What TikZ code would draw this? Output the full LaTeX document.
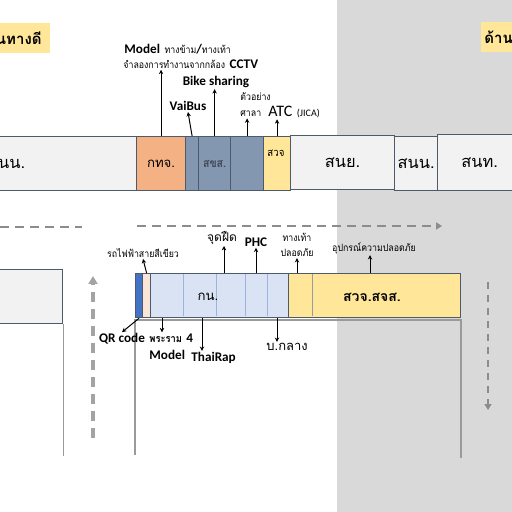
\documentclass[tikz,border=0pt]{standalone}
\usepackage{fontspec}
\setmainfont{Carlito}
\newfontfamily\thai[Script=Thai]{Loma}
\newfontfamily\thainarrow[Script=Thai, FakeStretch=0.88]{Loma}
\usetikzlibrary{arrows.meta}
\usetikzlibrary{calc}

\definecolor{bggray}{HTML}{D9D9D9}
\definecolor{segline}{HTML}{4D5A6B}
\definecolor{lightseg}{HTML}{F2F2F2}
\definecolor{orangeseg}{HTML}{F4B183}
\definecolor{slateseg}{HTML}{8497B0}
\definecolor{yellowseg}{HTML}{FFE699}
\definecolor{darkblue}{HTML}{4472C4}
\definecolor{peach}{HTML}{FBE5D6}
\definecolor{paleblue}{HTML}{DAE3F3}
\definecolor{divblue}{HTML}{9DB3DC}
\definecolor{dashgray}{HTML}{8C8C8C}
\definecolor{framegray}{HTML}{9A9A9A}

\newcommand{\thaismall}[1]{{\thainarrow\fontsize{5}{6}\selectfont #1}}
\newcommand{\latbold}[1]{{\fontsize{6.6}{8}\selectfont\bfseries #1}}

\tikzset{
  seg/.style={draw=segline, line width=0.6pt, anchor=north west, inner sep=0pt},
  barbig/.style={font=\thai\fontsize{8.2}{10}\selectfont},
  barmid/.style={font=\thai\fontsize{6.6}{8}\selectfont},
  tag/.style={fill=yellowseg, minimum height=15pt, inner xsep=4pt,
    font=\thai\bfseries\fontsize{7.5}{9}\selectfont},
  pin/.style={-{Stealth[length=2.2pt,width=2.2pt]}, line width=0.5pt},
  flow/.style={dashgray, line width=1pt, dash pattern=on 4.5pt off 3pt},
  frame/.style={framegray, line width=0.6pt},
}

\begin{document}
\begin{tikzpicture}[x=0.5pt,y=-0.5pt]
\useasboundingbox (0,0) rectangle (512,512);
\clip (0,0) rectangle (512,512);

% shaded right half
\fill[bggray] (337,0) rectangle (512,512);

% --- tags ---
\node[tag, anchor=east] (goodtag) at (50,38) {เส้นทางดี};
\node[tag, anchor=west, inner xsep=1.5pt, text width=30pt, align=left] (sidetag) at (481,37) {ด้าน};

% --- top row ---
\node[seg, fill=lightseg, minimum width=132pt, minimum height=27pt, barbig] (snnA) at (-126,136) {สนน.};
\node[seg, fill=orangeseg, minimum width=24.5pt, minimum height=27pt, barmid] (gtj) at (136,136) {กทจ.};
\node[seg, fill=slateseg, minimum width=6.5pt, minimum height=27pt] (sksA) at (185,136) {};
\node[seg, fill=slateseg, minimum width=16pt, minimum height=27pt,
  font=\thainarrow\bfseries\fontsize{6}{7}\selectfont, text=segline!80!black] (sksB) at (198,136) {สขส.};
\node[seg, fill=slateseg, minimum width=16.5pt, minimum height=27pt] (sksC) at (230,136) {};
\node[seg, fill=yellowseg, minimum width=13.5pt, minimum height=27pt] (swj) at (263,136) {};
\node[font=\thainarrow\fontsize{5.5}{6}\selectfont, inner sep=0pt] (swjtxt) at (276,153) {สวจ};
\node[seg, fill=lightseg, minimum width=52pt, minimum height=27pt, barbig] (sny) at (290,135) {สนย.};
\node[seg, fill=lightseg, minimum width=21.5pt, minimum height=27pt, barbig] (snnB) at (394,136) {สนน.};
\node[seg, fill=lightseg, minimum width=42pt, minimum height=28pt, barbig] (snt) at (437,134) {สนท.};

% labels above top row
\node[anchor=west, inner sep=0.5pt] (model) at (123,49)
  {\latbold{Model} \thaismall{ทางข้าม}\latbold{/}\thaismall{ทางเท้า}};
\node[anchor=west, inner sep=0.5pt] (cctv) at (122,64)
  {\thaismall{จำลองการทำงานจากกล้อง} \latbold{CCTV}};
\node[inner sep=0.5pt] (bike) at (216,82) {\latbold{Bike sharing}};
\node[inner sep=0.5pt] (vaibus) at (188,106) {\latbold{VaiBus}};
\node[anchor=west, inner sep=0.5pt] (example) at (239,97) {\thaismall{ตัวอย่าง}};
\node[anchor=west, inner sep=0.5pt] (sala) at (239,114) {\thaismall{ศาลา}};
\node[anchor=west, inner sep=0.5pt] (atc) at (267,112)
  {{\fontsize{8}{9}\selectfont ATC} {\fontsize{5}{6}\selectfont (JICA)}};

\draw[pin] (gtj.north) -- (gtj.north |- cctv.south);
\draw[pin] (sksA.north) -- (vaibus.south);
\draw[pin] (sksB.north) -- (sksB.north |- bike.south);
\draw[pin] (sksC.north) -- (sksC.north |- sala.south);
\draw[pin] (swj.north) -- (swj.north |- atc.south);

% --- flow arrows ---
\coordinate (flowA0) at (0,227);
\coordinate (flowA1) at (82,227);
\coordinate (flowB0) at (137,226);
\coordinate (flowB1) at (442,226);
\coordinate (upA) at (93,438);
\coordinate (upB) at (93,276);
\coordinate (downA) at (488,282);
\coordinate (downB) at (488,410);
\draw[flow] (flowA0) -- (flowA1);
\draw[flow, -{Triangle[length=3pt,width=3.5pt]}] (flowB0) -- (flowB1);
\draw[flow, dashgray!80, line width=1.6pt, dash pattern=on 5pt off 3.5pt,
  -{Triangle[length=4pt,width=4.5pt]}] (upA) -- (upB);
\draw[flow, dash pattern=on 3.5pt off 3pt,
  -{Triangle[length=3pt,width=3.5pt]}] (downA) -- (downB);

% --- second row ---
\node[seg, fill=lightseg, minimum width=81pt, minimum height=27pt] (leftbox) at (-100,269) {};
\draw[frame] (leftbox.south east) -- ++(0,132);
\draw[frame] (135,455) -- (135,320) -- (461,320) -- (461,458);

\node[seg, fill=darkblue, minimum width=3.5pt, minimum height=22pt] (qr) at (135,273) {};
\node[seg, fill=peach, minimum width=4pt, minimum height=22pt] (green) at (142,273) {};
\node[seg, fill=paleblue, minimum width=69pt, minimum height=22pt] (kn) at (150,273) {};
\node[seg, fill=yellowseg, minimum width=86pt, minimum height=22pt] (sjs) at (288,273) {};
\foreach \x in {183,216,245,267}
  \draw[divblue, line width=0.5pt] (\x,274) -- (\x,316);
\draw[segline!60, line width=0.5pt] (312,274) -- (312,316);
\node[barmid] (kntxt) at (208,297) {กน.};
\node[font=\thai\bfseries\fontsize{7}{8}\selectfont] (sjstxt) at (372,297) {สวจ.สจส.};

% labels round second row
\node[inner sep=0.5pt] (bts) at (143,253) {\thaismall{รถไฟฟ้าสายสีเขียว}};
\node[inner sep=0.5pt] (qrlbl) at (122,339) {\latbold{QR code}};
\node[anchor=west, inner sep=0.5pt] (rama) at (148,338)
  {{\thainarrow\bfseries\fontsize{5.3}{6}\selectfont พระราม} \latbold{4}};
\node[anchor=west, inner sep=0.5pt] (model2) at (148,355) {\latbold{Model}};
\node[anchor=west, inner sep=0.5pt] (thairap) at (190,358) {\latbold{ThaiRap}};
\node[anchor=west, inner sep=0.5pt, font=\thai\fontsize{6.5}{7}\selectfont] (bklang) at (265,347) {บ.กลาง};
\node[inner sep=0.5pt, font=\thai\fontsize{6}{7}\selectfont] (judfeud) at (222,238) {จุดฝืด};
\node[inner sep=0.5pt] (phc) at (256,242) {\latbold{PHC}};
\node[inner sep=0.5pt, align=center, font=\thainarrow\fontsize{5}{7.5}\selectfont] (walk) at (297,245) {ทางเท้า\\ปลอดภัย};
\node[inner sep=0.5pt] (safety) at (374,248) {\thaismall{อุปกรณ์ความปลอดภัย}};

\coordinate (ramaft) at ([xshift=6pt]kn.south west);
\coordinate (thairapft) at ([xshift=26pt]kn.south west);
\coordinate (bklangft) at ([xshift=63.5pt]kn.south west);
\coordinate (judfeudft) at ([xshift=37pt]kn.north west);
\coordinate (phcft) at ([xshift=53pt]kn.north west);
\coordinate (walkft) at ([xshift=4.5pt]sjs.north west);
\coordinate (safetyft) at ([xshift=41pt]sjs.north west);

\draw[pin] (green.north) -- (bts.south);
\draw[pin] (qr.south) -- (qrlbl.north);
\draw[pin] (ramaft) -- (ramaft |- rama.north);
\draw[pin] (thairapft) -- (thairapft |- thairap.north);
\draw[pin] (bklangft) -- (bklangft |- bklang.north);
\draw[pin] (judfeudft) -- (judfeudft |- judfeud.south);
\draw[pin] (phcft) -- (phcft |- phc.south);
\draw[pin] (walkft) -- (walkft |- walk.south);
\draw[pin] (safetyft) -- (safetyft |- safety.south);

\end{tikzpicture}
\end{document}
